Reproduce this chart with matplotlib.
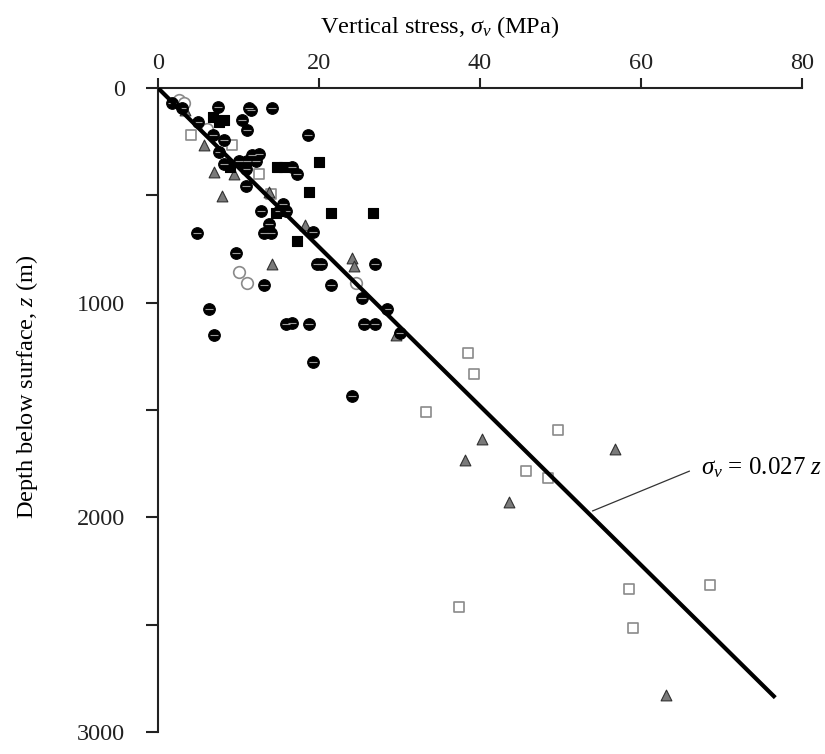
import matplotlib
matplotlib.use("Agg")
import matplotlib.pyplot as plt
import numpy as np

plt.rcParams['font.family'] = ['Liberation Serif', 'DejaVu Serif']
plt.rcParams['mathtext.fontset'] = 'custom'
plt.rcParams['mathtext.rm'] = 'Liberation Serif'
plt.rcParams['mathtext.it'] = 'Liberation Serif:italic'

# Data: (vertical stress MPa, depth m)
circ_s = [1.7, 7.4, 11.3, 10.4, 11.1, 6.8, 8.2, 11.5, 14.1, 18.6, 7.6, 11.7, 12.6, 10.1, 11.1,
          12.2, 8.2, 10.9, 16.7, 17.3, 10.9, 15.5, 12.8, 15.0, 15.9, 4.9, 13.8, 13.2, 14.0, 19.2,
          9.7, 19.7, 20.2, 27.0, 13.2, 21.5, 25.4, 28.5, 6.3, 7.0, 15.9, 16.6, 18.7, 25.6, 27.0,
          30.0, 19.2, 24.1, 3.0, 5.0]
circ_z = [70, 88, 94, 150, 197, 220, 244, 103, 92, 217, 299, 314, 306, 338, 338,
          338, 353, 376, 369, 400, 455, 541, 572, 572, 572, 674, 634, 676, 676, 669,
          770, 822, 822, 822, 920, 920, 978, 1028, 1028, 1150, 1100, 1096, 1100, 1100, 1100,
          1140, 1275, 1435, 95, 160]

sq_s = [6.8, 8.2, 7.6, 9.0, 14.8, 15.7, 20.0, 18.8, 14.6, 21.5, 26.7, 17.3]
sq_z = [134, 150, 157, 369, 369, 369, 345, 483, 580, 583, 583, 713]

tri_s = [3.4, 5.7, 7.0, 9.5, 8.0, 13.8, 18.2, 14.2, 24.1, 24.3, 29.6, 40.3, 38.1, 56.8, 43.6, 63.1]
tri_z = [103, 267, 392, 400, 502, 486, 638, 822, 790, 830, 1150, 1635, 1733, 1681, 1928, 2826]

ocirc_s = [2.6, 3.2, 6.1, 10.1, 11.1, 24.6]
ocirc_z = [56, 70, 189, 856, 908, 908]

osq_s = [4.1, 9.2, 12.6, 14.0, 38.5, 39.2, 33.3, 49.7, 45.7, 48.5, 58.5, 68.6, 37.4, 59.0]
osq_z = [217, 267, 400, 494, 1233, 1330, 1510, 1591, 1783, 1815, 2333, 2316, 2416, 2514]

gradient = 0.027
line_z = [0, 2840]

fig = plt.figure(figsize=(8.25, 7.54), dpi=100)
ax = fig.add_axes([158 / 825, 1 - 732 / 754, 644 / 825, 644 / 754])

ax.scatter(osq_s, osq_z, marker='s', s=55, facecolors='white', edgecolors='#8a8a8a', linewidths=1.2, zorder=2)
ax.scatter(ocirc_s, ocirc_z, marker='o', s=70, facecolors='white', edgecolors='#8a8a8a', linewidths=1.2, zorder=2)
ax.scatter(tri_s, tri_z, marker='^', s=60, facecolors='#7a7a7a', edgecolors='#303030', linewidths=0.8, zorder=3)
ax.scatter(sq_s, sq_z, marker='s', s=55, facecolors='black', edgecolors='black', linewidths=0.8, zorder=3)
ax.scatter(circ_s, circ_z, marker='o', s=70, facecolors='black', edgecolors='black', linewidths=0.8, zorder=3)
ax.scatter(circ_s, circ_z, marker='_', s=28, color='#9a9a9a', linewidths=0.8, zorder=4)

lz = np.array(line_z, dtype=float)
ax.plot(gradient * lz, lz, color='black', lw=3.0, zorder=5, solid_capstyle='butt')

ax.plot([54.0, 66.0], [1970, 1785], color='#333333', lw=0.9, zorder=5)
ax.text(67.5, 1770, r'$\sigma_v$ = 0.027 $z$', fontsize=18, va='center', ha='left')

ax.set_xlim(0, 80)
ax.set_ylim(3000, 0)
ax.spines['right'].set_visible(False)
ax.spines['bottom'].set_visible(False)
for sp in ['left', 'top']:
    ax.spines[sp].set_linewidth(1.5)
    ax.spines[sp].set_color('#222222')

ax.xaxis.set_ticks_position('top')
ax.xaxis.set_label_position('top')
ax.set_xticks([0, 20, 40, 60, 80])
ax.set_yticks([0, 1000, 2000, 3000])
ax.set_yticks([500, 1500, 2500], minor=True)
ax.tick_params(axis='x', direction='out', length=7, width=1.5, labelsize=17.5, pad=3, colors='#222222')
ax.tick_params(axis='y', which='both', direction='out', length=8.6, width=1.5, labelsize=17.5, pad=15, colors='#222222')

ax.set_xlabel(r'Vertical stress, $\sigma_v$ (MPa)', fontsize=17.5)
ax.xaxis.set_label_coords(0.438, 1.085)
ax.set_ylabel(r'Depth below surface, $z$ (m)', fontsize=17.5)
ax.yaxis.set_label_coords(-0.183, 0.536)

fig.savefig('out.png', dpi=100)
